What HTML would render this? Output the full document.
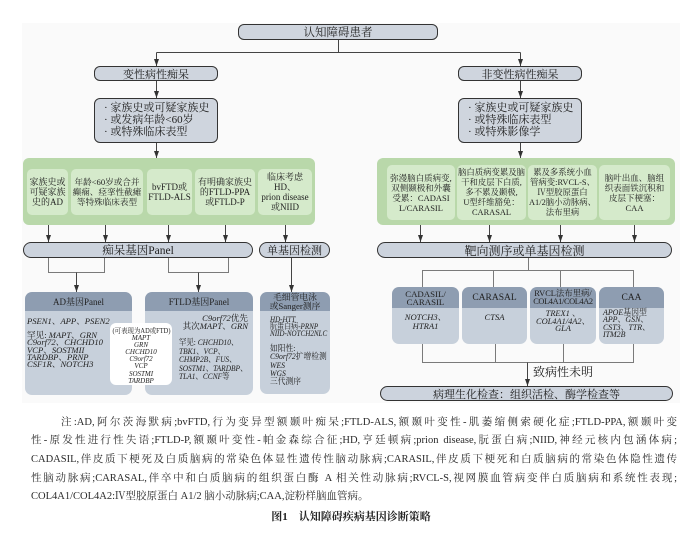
<!DOCTYPE html>
<html><head><meta charset="utf-8">
<style>
*{margin:0;padding:0;box-sizing:border-box}
body{width:684px;height:538px;background:#fff;position:relative;overflow:hidden;font-family:"Liberation Serif","Noto Serif CJK SC",serif;color:#222}
.a{position:absolute}
.c{display:flex;align-items:center;justify-content:center;text-align:center;white-space:nowrap}
.tb{border:1.2px solid #333;background:#cfd5de;border-radius:6px}
.bar{border:1.2px solid #333;background:#ccd3dd;border-radius:8px}
.g{background:#b9d8aa;border-radius:6px}
.gi{background:#d5eacb;border-radius:5px;line-height:10px}
.hd{background:#8e9db1;border-radius:7px 7px 0 0}
.bd{background:#c7d0db;border-radius:0 0 7px 7px}
i{font-style:italic}
.fn{position:absolute;height:18px;line-height:18px;font-size:10.5px;color:#2a2a2a;text-align:justify;text-align-last:justify;white-space:nowrap}
</style></head><body>

<div class="a" style="left:22px;top:23px;width:658px;height:380px;background:#fafafa"></div>

<!-- top boxes -->
<div class="a tb c" style="left:238px;top:24px;width:200px;height:16px;font-size:11.5px"><div>认知障碍患者</div></div>
<div class="a tb c" style="left:94px;top:66px;width:124px;height:15px;font-size:11px"><div>变性病性痴呆</div></div>
<div class="a tb c" style="left:458px;top:66px;width:124px;height:15px;font-size:11px"><div>非变性病性痴呆</div></div>

<div class="a tb" style="left:94px;top:98px;width:124px;height:45px;font-size:11px;line-height:12px;padding:3px 0 0 9px;white-space:nowrap">· 家族史或可疑家族史<br>· 或发病年龄&lt;60岁<br>· 或特殊临床表型</div>
<div class="a tb" style="left:458px;top:98px;width:124px;height:45px;font-size:11px;line-height:12px;padding:3px 0 0 9px;white-space:nowrap">· 家族史或可疑家族史<br>· 或特殊临床表型<br>· 或特殊影像学</div>

<!-- green blocks -->
<div class="a g" style="left:23px;top:158px;width:292px;height:67px"></div>
<div class="a g" style="left:377px;top:158px;width:298px;height:67px"></div>

<div class="a gi c" style="left:27px;top:169px;width:41px;height:46px;font-size:9px"><div>家族史或<br>可疑家族<br>史的AD</div></div>
<div class="a gi c" style="left:71px;top:169px;width:72px;height:46px;font-size:8.6px"><div>年龄&lt;60岁或合并<br>癫痫、痉挛性截瘫<br>等特殊临床表型</div></div>
<div class="a gi c" style="left:147px;top:169px;width:45px;height:46px;font-size:9px"><div>bvFTD或<br>FTLD-ALS</div></div>
<div class="a gi c" style="left:195px;top:169px;width:60px;height:46px;font-size:9px"><div>有明确家族史<br>的FTLD-PPA<br>或FTLD-P</div></div>
<div class="a gi c" style="left:258px;top:169px;width:54px;height:46px;font-size:9px"><div>临床考虑<br>HD、<br>prion disease<br>或NIID</div></div>

<div class="a gi c" style="left:387px;top:165px;width:68px;height:55px;font-size:8.5px"><div>弥漫脑白质病变,<br>双侧颞极和外囊<br>受累：CADASI<br>L/CARASIL</div></div>
<div class="a gi c" style="left:457px;top:165px;width:69px;height:55px;font-size:8.4px"><div>脑白质病变累及脑<br>干和皮层下白质,<br>多不累及颞极,<br>U型纤维豁免：<br>CARASAL</div></div>
<div class="a gi c" style="left:528px;top:165px;width:69px;height:55px;font-size:8.4px"><div>累及多系统小血<br>管病变:RVCL-S、<br>Ⅳ型胶原蛋白<br>A1/2脑小动脉病、<br>法布里病</div></div>
<div class="a gi c" style="left:599px;top:165px;width:71px;height:55px;font-size:8.5px"><div>脑叶出血、脑组<br>织表面铁沉积和<br>皮层下梗塞：<br>CAA</div></div>

<!-- bars -->
<div class="a bar c" style="left:23px;top:242px;width:230px;height:16px;font-size:11.5px"><div>痴呆基因Panel</div></div>
<div class="a bar c" style="left:259px;top:242px;width:71px;height:16px;font-size:11px"><div>单基因检测</div></div>
<div class="a bar c" style="left:377px;top:242px;width:295px;height:16px;font-size:12px"><div>靶向测序或单基因检测</div></div>

<!-- AD panel -->
<div class="a hd c" style="left:25px;top:292px;width:107px;height:19px;font-size:9px"><div>AD基因Panel</div></div>
<div class="a bd" style="left:25px;top:311px;width:107px;height:84px"></div>
<div class="a" style="left:27px;top:317px;font-size:8.6px;line-height:9px;white-space:nowrap"><i>PSEN1</i>、<i>APP</i>、<i>PSEN2</i></div>
<div class="a" style="left:27px;top:332px;font-size:8.6px;line-height:7.3px;white-space:nowrap">罕见: <i>MAPT</i>、<i>GRN</i><br><i>C9orf72</i>、<i>CHCHD10</i><br><i>VCP</i>、<i>SOSTMII</i><br><i>TARDBP</i>、<i>PRNP</i><br><i>CSF1R</i>、<i>NOTCH3</i></div>

<!-- FTLD panel -->
<div class="a hd c" style="left:145px;top:292px;width:108px;height:19px;font-size:9px"><div>FTLD基因Panel</div></div>
<div class="a bd" style="left:145px;top:311px;width:108px;height:84px"></div>
<div class="a" style="left:160px;top:314px;width:88px;font-size:8.6px;line-height:8px;text-align:right;white-space:nowrap"><i>C9orf72</i>优先<br>其次<i>MAPT</i>、<i>GRN</i></div>
<div class="a" style="left:179px;top:338px;font-size:8.6px;line-height:8.5px;white-space:nowrap;transform:scaleX(0.86);transform-origin:left top">罕见: <i>CHCHD10</i>、<br><i>TBK1</i>、<i>VCP</i>、<br><i>CHMP2B</i>、<i>FUS</i>、<br><i>SOSTM1</i>、<i>TARDBP</i>、<br><i>TLA1</i>、<i>CCNF</i>等</div>

<!-- white overlay -->
<div class="a" style="left:110px;top:323px;width:62px;height:62px;background:#fff;border-radius:6px;font-size:7px;line-height:7.1px;text-align:center;white-space:nowrap;padding-top:5px;overflow:hidden"><span style="display:inline-block;transform:scaleX(0.92)">(可表现为AD或FTD)</span><br><i>MAPT</i><br><i>GRN</i><br><i>CHCHD10</i><br><i>C9orf72</i><br><i>VCP</i><br><i>SOSTMI</i><br><i>TARDBP</i></div>

<!-- 毛细管 -->
<div class="a hd c" style="left:260px;top:292px;width:70px;height:19px;font-size:8.8px;line-height:8.3px"><div>毛细管电泳<br>或Sanger测序</div></div>
<div class="a bd" style="left:260px;top:311px;width:70px;height:83px"></div>
<div class="a" style="left:270px;top:316px;font-size:8.6px;line-height:7.2px;white-space:nowrap;transform:scaleX(0.82);transform-origin:left top"><i>HD-HTT</i><br>朊蛋白病-<i>PRNP</i><br><i>NIID-NOTCH2NLC</i></div>
<div class="a" style="left:270px;top:344px;font-size:8.6px;line-height:8.3px;white-space:nowrap;transform:scaleX(0.9);transform-origin:left top">如阳性:<br><i>C9orf72</i>扩增检测<br><i>WES</i><br><i>WGS</i><br>三代测序</div>

<!-- right lower boxes -->
<div class="a hd c" style="left:392px;top:287px;width:67px;height:21px;font-size:8.8px;line-height:8px"><div>CADASIL/<br>CARASIL</div></div>
<div class="a bd" style="left:392px;top:308px;width:67px;height:36px;font-size:8.6px;line-height:8.5px;text-align:center;padding-top:5px;white-space:nowrap"><i>NOTCH3</i>、<br><i>HTRA1</i></div>
<div class="a hd c" style="left:462px;top:287px;width:65px;height:21px;font-size:9.5px"><div>CARASAL</div></div>
<div class="a bd" style="left:462px;top:308px;width:65px;height:36px;font-size:8.6px;line-height:8.5px;text-align:center;padding-top:5px"><i>CTSA</i></div>
<div class="a hd c" style="left:530px;top:287px;width:66px;height:21px;font-size:8.4px;line-height:8px"><div>RVCL法布里病/<br><span style="letter-spacing:-0.4px">COL4A1/COL4A2</span></div></div>
<div class="a bd" style="left:530px;top:308px;width:66px;height:36px;font-size:8.4px;line-height:7.5px;text-align:center;padding-top:2px;white-space:nowrap"><i>TREX1</i> 、<br><i>COL4A1/4A2</i>、<br><i>GLA</i></div>
<div class="a hd c" style="left:599px;top:287px;width:65px;height:21px;font-size:9.5px"><div>CAA</div></div>
<div class="a bd" style="left:599px;top:308px;width:65px;height:36px"></div>
<div class="a" style="left:603px;top:309px;font-size:8.6px;line-height:7.4px;white-space:nowrap;transform:scaleX(0.92);transform-origin:left top"><i>APOE</i>基因型<br><i>APP</i>、<i>GSN</i>、<br><i>CST3</i>、<i>TTR</i>、<br><i>ITM2B</i></div>

<div class="a" style="left:533px;top:365px;font-size:12px;line-height:14px;white-space:nowrap">致病性未明</div>
<div class="a bar c" style="left:380px;top:386px;width:293px;height:15px;font-size:11px"><div>病理生化检查：组织活检、酶学检查等</div></div>

<!-- connectors -->
<svg class="a" style="left:0;top:0" width="684" height="538">
<defs><marker id="m" markerWidth="7" markerHeight="5" refX="7" refY="2.5" orient="auto" markerUnits="userSpaceOnUse"><path d="M0,0L7,2.5L0,5z" fill="#333"/></marker></defs>
<g stroke="#444" stroke-width="1" fill="none">
<path d="M338.5,40V52.5M156.5,52.5H520.5"/>
<path d="M156.5,52.5V66" marker-end="url(#m)"/>
<path d="M520.5,52.5V66" marker-end="url(#m)"/>
<path d="M156.5,81V98" marker-end="url(#m)"/>
<path d="M520.5,81V98" marker-end="url(#m)"/>
<path d="M156.5,143V158" marker-end="url(#m)"/>
<path d="M520.5,143V158" marker-end="url(#m)"/>
<path d="M48.5,225V242" marker-end="url(#m)"/>
<path d="M105.5,225V242" marker-end="url(#m)"/>
<path d="M168.5,225V242" marker-end="url(#m)"/>
<path d="M225.5,225V242" marker-end="url(#m)"/>
<path d="M285.5,225V242" marker-end="url(#m)"/>
<path d="M420.5,225V242" marker-end="url(#m)"/>
<path d="M489.5,225V242" marker-end="url(#m)"/>
<path d="M560.5,225V242" marker-end="url(#m)"/>
<path d="M634.5,225V242" marker-end="url(#m)"/>
</g>
<g stroke="#7a7a7a" stroke-width="1" fill="none">
<path d="M48.5,258V272.5H104.5V258"/>
<path d="M168.5,258V272.5H228.5V258"/>
<path d="M528.5,258V270.5M422.5,287V270.5H633.5V287M493.5,270.5V287M560.5,270.5V287"/>
<path d="M422.5,344V362.5H633.5V344M495.5,344V362.5M563.5,344V362.5"/>
</g>
<g stroke="#444" stroke-width="1" fill="none">
<path d="M76.5,272.5V292" marker-end="url(#m)"/>
<path d="M198.5,272.5V292" marker-end="url(#m)"/>
<path d="M291.5,258V292" marker-end="url(#m)"/>
<path d="M527.5,362.5V386" marker-end="url(#m)"/>
</g>
</svg>

<!-- footnote -->
<div class="fn" style="left:61px;top:414px;width:616px">注:AD,阿尔茨海默病;bvFTD,行为变异型额颞叶痴呆;FTLD-ALS,额颞叶变性-肌萎缩侧索硬化症;FTLD-PPA,额颞叶变</div>
<div class="fn" style="left:31px;top:432px;width:646px">性-原发性进行性失语;FTLD-P,额颞叶变性-帕金森综合征;HD,亨廷顿病;prion disease,朊蛋白病;NIID,神经元核内包涵体病;</div>
<div class="fn" style="left:31px;top:451px;width:646px">CADASIL,伴皮质下梗死及白质脑病的常染色体显性遗传性脑动脉病;CARASIL,伴皮质下梗死和白质脑病的常染色体隐性遗传</div>
<div class="fn" style="left:31px;top:470px;width:646px">性脑动脉病;CARASAL,伴卒中和白质脑病的组织蛋白酶 A 相关性动脉病;RVCL-S,视网膜血管病变伴白质脑病和系统性表现;</div>
<div class="fn" style="left:31px;top:488px;text-align:left;text-align-last:left">COL4A1/COL4A2:Ⅳ型胶原蛋白 A1/2 脑小动脉病;CAA,淀粉样脑血管病。</div>
<div class="a" style="left:200px;top:508px;width:302px;text-align:center;font-size:11px;line-height:18px;font-weight:bold;color:#222;white-space:nowrap">图1　认知障碍疾病基因诊断策略</div>

</body></html>
